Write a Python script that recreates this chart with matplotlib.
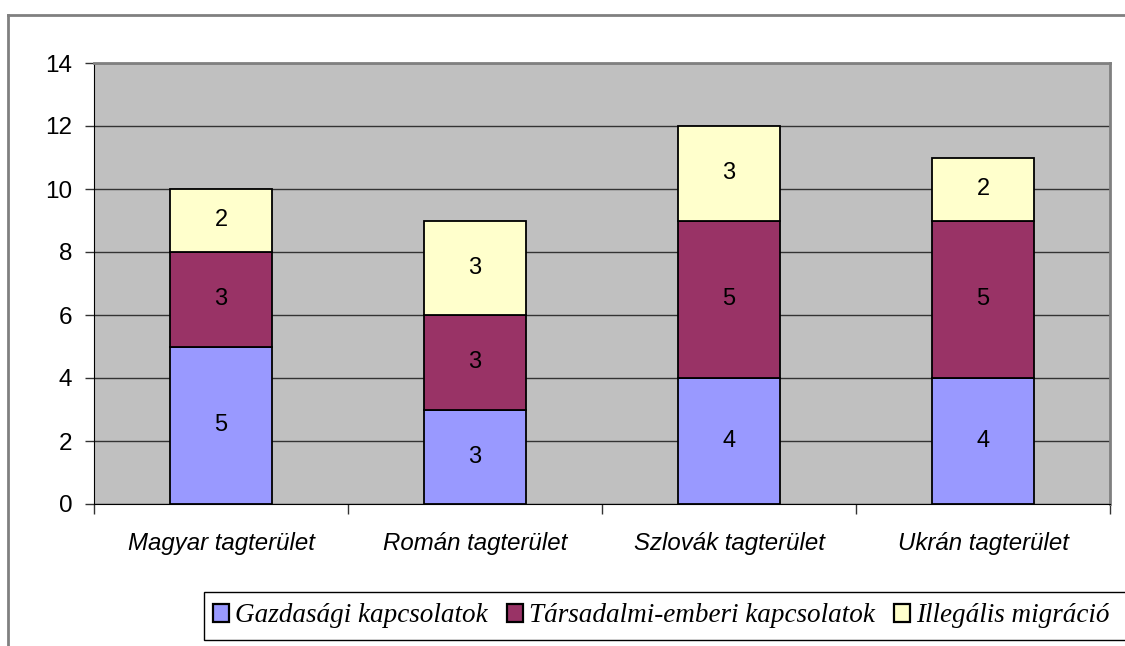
import matplotlib.pyplot as plt
from matplotlib.patches import Rectangle
from matplotlib.lines import Line2D
import numpy as np

categories = ['Magyar tagterület', 'Román tagterület', 'Szlovák tagterület', 'Ukrán tagterület']
gazdasagi = [5, 3, 4, 4]
tarsadalmi = [3, 3, 5, 5]
illegalis = [2, 3, 3, 2]
series_names = ['Gazdasági kapcsolatok', 'Társadalmi-emberi kapcsolatok', 'Illegális migráció']
colors = ['#9999FF', '#993366', '#FFFFCC']

W, H = 1125, 646
fig = plt.figure(figsize=(W / 100, H / 100), dpi=100)

# outer chart border (gray, only top and left visible)
fig.add_artist(Line2D([8 / W, 1], [1 - 15 / H, 1 - 15 / H], color='#808080', lw=2))
fig.add_artist(Line2D([8 / W, 8 / W], [0, 1 - 15 / H], color='#808080', lw=2))

ax = fig.add_axes([94 / W, (H - 504) / H, (1110 - 94) / W, (504 - 63) / H])
ax.set_facecolor('#C0C0C0')

x = np.arange(len(categories))
series = [gazdasagi, tarsadalmi, illegalis]
bottom = np.zeros(len(categories))
for vals, c in zip(series, colors):
    ax.bar(x, vals, 0.4, bottom=bottom, color=c, edgecolor='black', linewidth=1.3, zorder=3)
    for xi, b, v in zip(x, bottom, vals):
        ax.text(xi, b + v / 2, str(v), ha='center', va='center', fontsize=17,
                family='Liberation Sans', zorder=4)
    bottom = bottom + np.array(vals)

ax.set_xlim(-0.5, 3.5)
ax.set_ylim(0, 14)
ax.set_yticks(range(0, 15, 2))
ax.yaxis.grid(True, color='#333333', linewidth=1)
ax.set_axisbelow(True)
for lbl in ax.get_yticklabels():
    lbl.set_family('Liberation Sans')
ax.tick_params(axis='y', labelsize=17.5, length=6.5, width=1, color='#333333', pad=9)

ax.set_xticks(x)
ax.set_xticklabels(categories, family='Liberation Sans', style='italic', fontsize=17.3)
ax.tick_params(axis='x', length=0, pad=20)
ax.set_xticks(np.arange(-0.5, 4, 1), minor=True)
ax.tick_params(axis='x', which='minor', length=7, width=1, color='#333333')

ax.spines['left'].set_color('black')
ax.spines['bottom'].set_color('black')
ax.spines['top'].set_color('#808080')
ax.spines['right'].set_color('#808080')
ax.spines['top'].set_linewidth(2)
ax.spines['right'].set_linewidth(2)

# legend
fig.add_artist(Rectangle((204 / W, (H - 640) / H), (W + 5 - 204) / W, 48 / H,
                         transform=fig.transFigure, facecolor='white',
                         edgecolor='black', linewidth=1, clip_on=False))
handles = [Rectangle((0, 0), 1, 1, facecolor=c, edgecolor='black', linewidth=1.6) for c in colors]
leg = fig.legend(handles, series_names, loc='center left',
                 bbox_to_anchor=(213 / W, (H - 616) / H), ncol=3, frameon=False,
                 prop={'family': 'Liberation Serif', 'style': 'italic', 'size': 19.5},
                 handlelength=0.6, handleheight=0.6, handletextpad=0.22, columnspacing=0.7,
                 borderaxespad=0, borderpad=0)

fig.savefig('out.png', dpi=100)
